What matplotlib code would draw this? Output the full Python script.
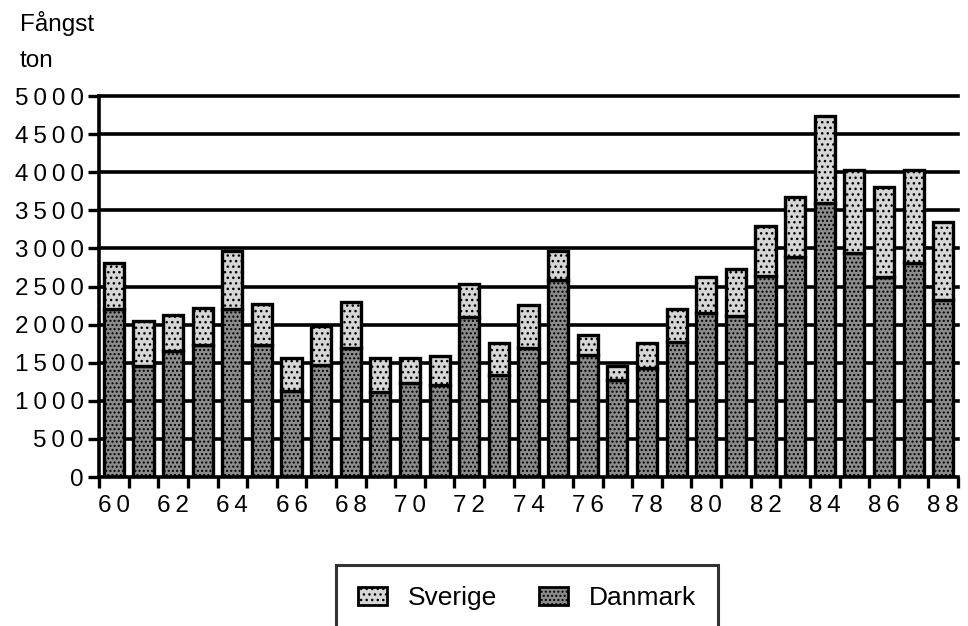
import matplotlib
matplotlib.use("Agg")
import matplotlib.pyplot as plt
from matplotlib.patches import Patch
import numpy as np

# Catch per year (ton), stacked: Danmark at the bottom, Sverige on top
years = list(range(60, 89))
danmark = [2210, 1460, 1650, 1730, 2210, 1730, 1135, 1475, 1690, 1120,
           1230, 1210, 2100, 1340, 1690, 2585, 1600, 1275, 1430, 1775,
           2150, 2115, 2640, 2890, 3595, 2935, 2630, 2810, 2325]
sverige = [605, 590, 475, 490, 760, 540, 425, 505, 610, 440,
           330, 380, 435, 415, 565, 385, 265, 185, 325, 425,
           470, 610, 650, 780, 1145, 1090, 1180, 1215, 1025]
y_ticks = [0, 500, 1000, 1500, 2000, 2500, 3000, 3500, 4000, 4500, 5000]

FONT = ["Liberation Sans", "DejaVu Sans"]
plt.rcParams["font.family"] = FONT
plt.rcParams["hatch.linewidth"] = 1.0
plt.rcParams["hatch.color"] = "black"

SV_FACE = "#d6d6d6"
DK_FACE = "#8c8c8c"


def spaced(s):
    # wide tracking of the digits
    return "\u2009".join(s)


fig = plt.figure(figsize=(9.68, 6.26), dpi=100)
ax = fig.add_axes([0.1023, 0.2380, 0.8874, 0.6086])

x = np.arange(len(years))
w = 0.68
ax.bar(x, danmark, width=w, color=DK_FACE, edgecolor="black",
       linewidth=2.4, hatch="....", zorder=3)
ax.bar(x, sverige, width=w, bottom=danmark, color=SV_FACE,
       edgecolor="black", linewidth=2.4, hatch="...", zorder=3)

ax.set_xlim(-0.5, len(years) - 0.5)
ax.set_ylim(0, 5000)

# horizontal rules
for v in y_ticks[1:]:
    ax.axhline(v, color="black", linewidth=2.6, zorder=2, clip_on=False)

for side in ("top", "right"):
    ax.spines[side].set_visible(False)
for side in ("left", "bottom"):
    ax.spines[side].set_linewidth(2.6)
    ax.spines[side].set_zorder(4)

ax.set_yticks(y_ticks)
ax.set_yticklabels([spaced(str(v)) for v in y_ticks], fontsize=17.5)
ax.tick_params(axis="y", length=8, width=2.4, pad=3, direction="out")

# tick marks between bars, labels under every other bar
ax.set_xticks(np.arange(-0.5, len(years) + 0.5, 1.0))
ax.set_xticklabels([])
ax.tick_params(axis="x", length=8, width=2.4, direction="out")
for i, y in enumerate(years):
    if y % 2 == 0:
        ax.text(i, -240, spaced(str(y)), ha="center", va="top",
                fontsize=17.5, transform=ax.transData, clip_on=False)

fig.text(20 / 968, 1 - 24 / 626, "Fångst", fontsize=17.5, ha="left",
         va="center")
fig.text(20 / 968, 1 - 61 / 626, "ton", fontsize=17.5, ha="left",
         va="center")

handles = [
    Patch(facecolor=SV_FACE, edgecolor="black", linewidth=2.0, hatch="..."),
    Patch(facecolor=DK_FACE, edgecolor="black", linewidth=2.0, hatch="...."),
]
leg = fig.legend(handles, ["Sverige", "Danmark"], loc="center",
                 bbox_to_anchor=(527 / 968, 1 - 598 / 626), ncol=2,
                 fontsize=19, frameon=True, fancybox=False,
                 edgecolor="black", handlelength=1.1, handleheight=0.7,
                 handletextpad=0.8, columnspacing=1.6, borderpad=0.8,
                 borderaxespad=0)
leg.get_frame().set_linewidth(2.2)

fig.savefig("out.png", dpi=100, facecolor="white")
